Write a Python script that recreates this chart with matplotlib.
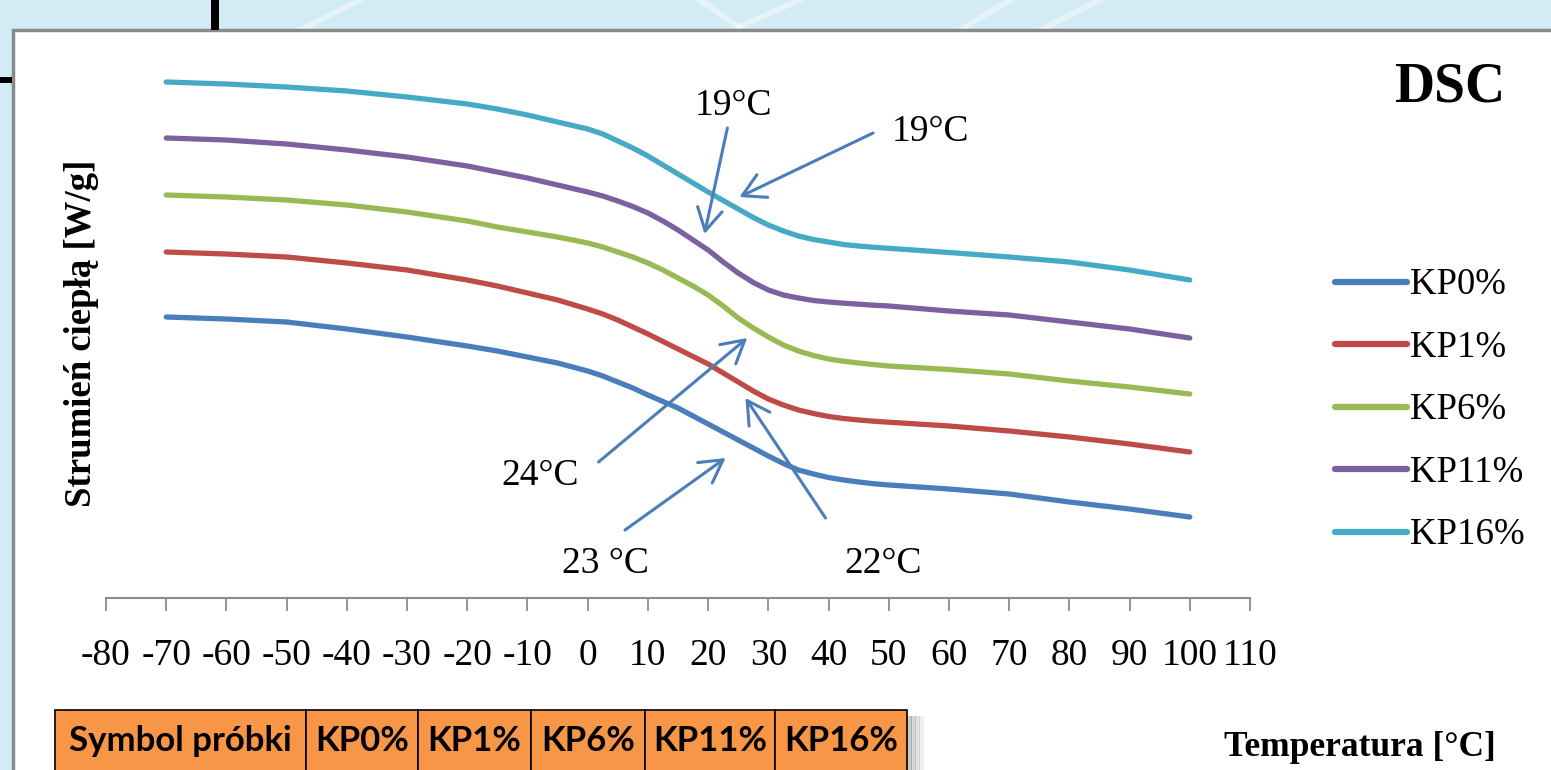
import matplotlib
matplotlib.use("Agg")
import matplotlib.pyplot as plt
from matplotlib.patches import Rectangle
from matplotlib.lines import Line2D

plt.rcParams['font.family'] = ['Liberation Serif', 'DejaVu Serif']

# ---- data -------------------------------------------------------------
temperature = [-70, -60, -50, -40, -30, -20, -15, -10, -5, 0, 2.5, 5, 7.5, 10,
               12.5, 15, 17.5, 20, 22.5, 25, 27.5, 30, 32.5, 35, 37.5, 40, 42.5,
               45, 47.5, 50, 60, 70, 80, 90, 100]
kp0 = [2.81, 2.79, 2.76, 2.69, 2.61, 2.52, 2.47, 2.41, 2.35, 2.27, 2.22, 2.16,
       2.10, 2.03, 1.965, 1.90, 1.82, 1.74, 1.66, 1.58, 1.50, 1.42, 1.345, 1.28,
       1.24, 1.205, 1.18, 1.16, 1.143, 1.13, 1.09, 1.04, 0.96, 0.89, 0.81]
kp1 = [3.46, 3.44, 3.41, 3.35, 3.28, 3.18, 3.12, 3.05, 2.98, 2.89, 2.84, 2.78,
       2.71, 2.64, 2.565, 2.49, 2.415, 2.34, 2.25, 2.16, 2.07, 1.99, 1.93, 1.88,
       1.845, 1.815, 1.795, 1.78, 1.768, 1.758, 1.72, 1.67, 1.61, 1.54, 1.46]
kp6 = [4.03, 4.01, 3.98, 3.93, 3.86, 3.77, 3.71, 3.66, 3.61, 3.55, 3.51, 3.46,
       3.41, 3.35, 3.28, 3.20, 3.12, 3.03, 2.92, 2.80, 2.70, 2.61, 2.53, 2.47,
       2.425, 2.39, 2.368, 2.35, 2.334, 2.32, 2.285, 2.24, 2.17, 2.11, 2.04]
kp11 = [4.60, 4.58, 4.54, 4.48, 4.41, 4.32, 4.26, 4.20, 4.13, 4.06, 4.02, 3.97,
        3.915, 3.85, 3.77, 3.68, 3.58, 3.48, 3.36, 3.25, 3.155, 3.08, 3.03, 3.00,
        2.975, 2.96, 2.948, 2.938, 2.928, 2.92, 2.87, 2.83, 2.76, 2.69, 2.60]
kp16 = [5.16, 5.14, 5.11, 5.07, 5.01, 4.94, 4.89, 4.83, 4.76, 4.69, 4.64, 4.57,
        4.50, 4.42, 4.33, 4.24, 4.15, 4.06, 3.975, 3.89, 3.805, 3.73, 3.67, 3.62,
        3.585, 3.56, 3.535, 3.52, 3.507, 3.497, 3.455, 3.41, 3.36, 3.28, 3.18]
series_names = ['KP0%', 'KP1%', 'KP6%', 'KP11%', 'KP16%']
series_colors = ['#4A7EBB', '#BE4B48', '#98B954', '#7D60A0', '#46AAC5']
x_ticks = list(range(-80, 111, 10))

# annotations: label, label position, arrow start, arrow tip (data coords)
ann_labels = ['19°C', '19°C', '24°C', '23 °C', '22°C']
ann_text_xy = [(24.2, 4.92), (57.0, 4.66), (-7.9, 1.22), (2.9, 0.34), (49.0, 0.34)]
ann_from = [(23.2, 4.70), (47.4, 4.65), (1.8, 1.36), (6.2, 0.68), (39.5, 0.80)]
ann_to = [(19.4, 3.64), (25.2, 4.01), (26.5, 2.60), (22.9, 1.40), (26.2, 2.00)]

table_cells = ['Symbol próbki', 'KP0%', 'KP1%', 'KP6%', 'KP11%', 'KP16%']

# ---- figure -----------------------------------------------------------
W, H = 1551, 770
fig = plt.figure(figsize=(W / 100, H / 100), dpi=100)
fig.patch.set_facecolor('#d3ebf5')

def fx(px):
    return px / W

def fy(py):
    return 1 - py / H

# slide decorations
for (x0, y0, x1, y1) in [(300, 30, 360, 0), (700, 0, 739, 27), (739, 27, 800, 0),
                         (960, 30, 1010, 0), (1040, 30, 1100, 0)]:
    fig.add_artist(Line2D([fx(x0), fx(x1)], [fy(y0), fy(y1)], color='white',
                          lw=4, alpha=0.45, zorder=-3))
fig.add_artist(Rectangle((fx(211), fy(30)), fx(8), 30 / H, facecolor='black',
                         edgecolor='none', zorder=-1))
fig.add_artist(Rectangle((0, fy(83)), fx(12), 6 / H, facecolor='black',
                         edgecolor='none', zorder=-1))
# white chart panel
fig.add_artist(Rectangle((fx(13), -0.05), 1.05, fy(30) + 0.05, facecolor='white',
                         edgecolor='#8a8a8a', lw=2.5, zorder=-2))

ax = fig.add_axes([fx(106), fy(598), fx(1250) - fx(106), fy(40) - fy(598)])
ax.set_facecolor('none')

series = [kp0, kp1, kp6, kp11, kp16]
for vals, name, col in zip(series, series_names, series_colors):
    ax.plot(temperature, vals, color=col, lw=3.8, label=name,
            solid_capstyle='round', solid_joinstyle='round')

ax.set_xlim(-80, 110)
ax.set_ylim(0, 5.58)
ax.set_xticks(x_ticks)
ax.set_xticklabels([str(t) for t in x_ticks])
ax.set_yticks([])
for s in ['left', 'right', 'top']:
    ax.spines[s].set_visible(False)
ax.spines['bottom'].set_color('#8c8c8c')
ax.spines['bottom'].set_linewidth(1.5)
ax.tick_params(axis='x', direction='out', length=9, width=1.3, color='#8c8c8c',
               labelsize=27, pad=20, labelcolor='black')

for lab, txy, a0, a1 in zip(ann_labels, ann_text_xy, ann_from, ann_to):
    ax.text(txy[0], txy[1], lab, fontsize=27, ha='center', va='center')
    ax.annotate('', xy=a1, xytext=a0,
                arrowprops=dict(arrowstyle='->,head_length=0.8,head_width=0.45',
                                color='#4A7EBB', lw=2.2, shrinkA=0, shrinkB=0,
                                mutation_scale=20))

leg = fig.legend(loc='upper left', bbox_to_anchor=(fx(1335), fy(268)),
                 frameon=False, fontsize=26.5, handlelength=1.96, handletextpad=0.08,
                 labelspacing=0.76, borderaxespad=0, borderpad=0)
for h in leg.legend_handles:
    h.set_linewidth(4.5)

fig.text(fx(82), fy(333), 'Strumień ciepłą [W/g]', rotation=90, ha='center',
         va='center', fontsize=26.5, fontweight='bold')
fig.text(fx(1360), fy(747), 'Temperatura [°C]', ha='center', va='center',
         fontsize=25.5, fontweight='bold')
fig.text(fx(1450), fy(88), 'DSC', ha='center', va='center', fontsize=40,
         fontweight='bold')

# bottom table
edges = [55, 306, 418, 531, 645, 775, 907]
for i in range(4):
    fig.add_artist(Rectangle((fx(907 + i * 4), -0.05), fx(5), fy(716) + 0.05,
                             facecolor='#505050', alpha=0.3 - i * 0.07,
                             edgecolor='none', zorder=1))
for i, txt in enumerate(table_cells):
    x0, x1 = edges[i], edges[i + 1]
    fig.add_artist(Rectangle((fx(x0), -0.05), fx(x1 - x0), fy(710) + 0.05,
                             facecolor='#F79646', edgecolor='black', lw=1.2, zorder=2))
    fig.text(fx((x0 + x1) / 2), fy(741), txt, ha='center', va='center',
             fontsize=25, fontweight='bold', family=['Lato', 'DejaVu Sans'],
             color='black', zorder=3)

fig.savefig('out.png', dpi=100, facecolor=fig.get_facecolor())
